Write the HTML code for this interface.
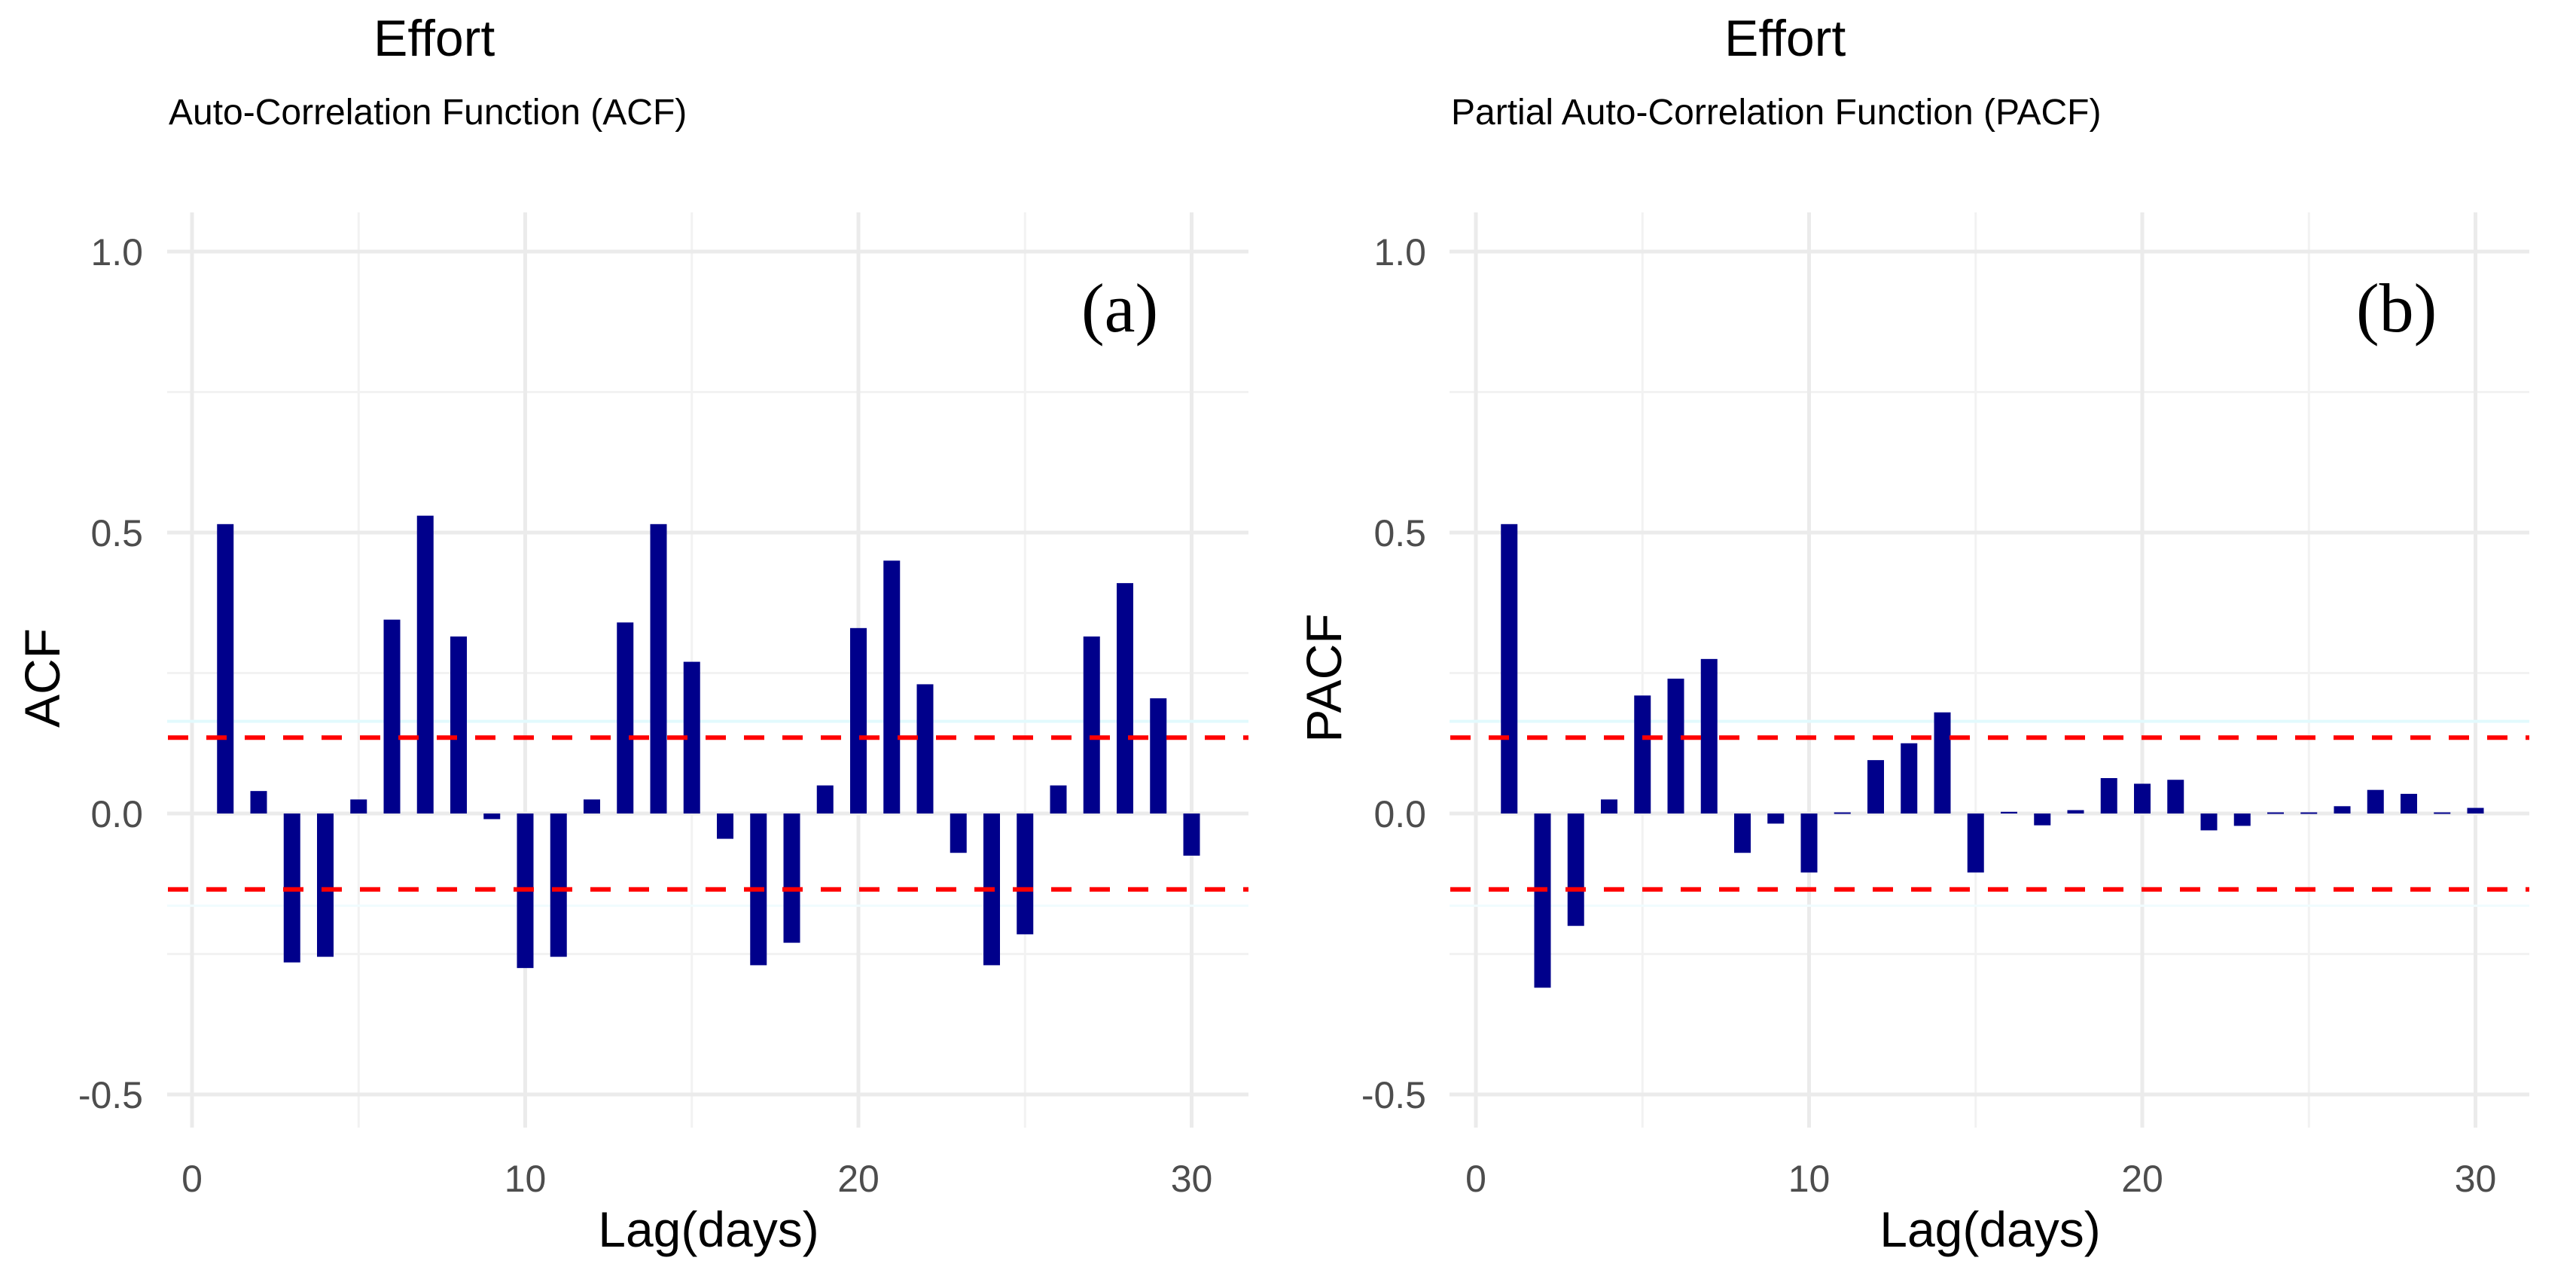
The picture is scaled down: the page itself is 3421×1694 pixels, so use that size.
<!DOCTYPE html>
<html><head><meta charset="utf-8"><style>
html,body{margin:0;padding:0;background:#fff;}
svg{display:block;font-family:"Liberation Sans",sans-serif;}
</style></head><body>
<svg id="chart" width="3421" height="1694" viewBox="0 0 3421 1694" xmlns="http://www.w3.org/2000/svg"></svg>
<script>
const lags = [1,2,3,4,5,6,7,8,9,10,11,12,13,14,15,16,17,18,19,20,21,22,23,24,25,26,27,28,29,30];
const acfValues = [0.515,0.04,-0.265,-0.255,0.025,0.345,0.53,0.315,-0.01,-0.275,-0.255,0.025,0.34,0.515,0.27,-0.045,-0.27,-0.23,0.05,0.33,0.45,0.23,-0.07,-0.27,-0.215,0.05,0.315,0.41,0.205,-0.075];
const pacfValues = [0.515,-0.31,-0.2,0.025,0.21,0.24,0.275,-0.07,-0.018,-0.105,0.002,0.095,0.125,0.18,-0.105,0.003,-0.021,0.006,0.063,0.053,0.06,-0.03,-0.022,0.002,0.002,0.013,0.042,0.035,0.002,0.01];
const confLimit = 0.135;
const cyanLimit = 0.164;
const xTicks = [0,10,20,30];
const xMinor = [5,15,25];
const yTicks = [-0.5,0,0.5,1.0];
const yTickLabels = ["-0.5","0.0","0.5","1.0"];
const yMinor = [-0.25,0.25,0.75];

const NS="http://www.w3.org/2000/svg";
const svg=document.getElementById('chart');
function mk(tag,attrs,parent){const e=document.createElementNS(NS,tag);for(const k in attrs)e.setAttribute(k,attrs[k]);(parent||svg).appendChild(e);return e;}

function panel(cfg){
  const g=mk('g',{});
  
  
  const xs=v=>cfg.x0+v*44.25;
  const ys=v=>1080-v*746;
  const L=cfg.left,R=cfg.right,T=282,B=1497;
  yMinor.forEach(v=>{const l=mk('line',{x1:L,x2:R,y1:ys(v),y2:ys(v),stroke:'#f2f2f2','stroke-width':3},g);
    
    });
  xMinor.forEach(v=>{const l=mk('line',{x1:xs(v),x2:xs(v),y1:T,y2:B,stroke:'#f2f2f2','stroke-width':3},g);
    
    });
  yTicks.forEach((v,i)=>{const l=mk('line',{x1:L,x2:R,y1:ys(v),y2:ys(v),stroke:'#ebebeb','stroke-width':5},g);
    
    
    const t=mk('text',{x:cfg.tickRight,y:ys(v)+18,'text-anchor':'end','font-size':50,fill:'#4d4d4d'},g);
    t.textContent=yTickLabels[i];
    
    });
  xTicks.forEach(v=>{const l=mk('line',{x1:xs(v),x2:xs(v),y1:T,y2:B,stroke:'#ebebeb','stroke-width':5},g);
    
    
    const t=mk('text',{x:xs(v),y:1582,'text-anchor':'middle','font-size':50,fill:'#4d4d4d'},g);
    t.textContent=String(v);
    
    });
  const c1=mk('line',{x1:L,x2:R,y1:ys(cyanLimit),y2:ys(cyanLimit),stroke:'#e2fafd','stroke-width':4},g);
  
  
  const c2=mk('line',{x1:L,x2:R,y1:ys(-cyanLimit),y2:ys(-cyanLimit),stroke:'#f0fcfe','stroke-width':3},g);
  
  
  cfg.values.forEach((v,i)=>{const x=xs(lags[i]);const y0=ys(0),y1=ys(v);
    const r=mk('rect',{x:x-11,y:Math.min(y0,y1),width:22,height:Math.max(2,Math.abs(y1-y0)),fill:'#00008b'},g);
    
    });
  [confLimit,-confLimit].forEach(v=>{const l=mk('line',{x1:L+1,x2:R,y1:ys(v),y2:ys(v),stroke:'#ff0000','stroke-width':6,'stroke-dasharray':'27 24'},g);
    
    });
  const t1=mk('text',{x:cfg.titleX,y:74,'font-size':68,fill:'#000'},g);t1.textContent='Effort';
  
  
  const t2=mk('text',{x:cfg.left+2,y:165,'font-size':48,fill:'#000'},g);t2.textContent=cfg.subtitle;
  
  
  const t3=mk('text',{x:cfg.xTitleX,y:1655,'text-anchor':'middle','font-size':66,fill:'#000'},g);t3.textContent='Lag(days)';
  
  
  const t4=mk('text',{x:0,y:0,'text-anchor':'middle','font-size':66,fill:'#000',transform:`translate(${cfg.yTitleX},900) rotate(-90)`},g);t4.textContent=cfg.yTitle;
  
  
  const t5=mk('text',{x:cfg.labelX,y:440,'font-size':92,fill:'#000','font-family':'Liberation Serif, serif'},g);t5.textContent=cfg.label;
  
  
}
panel({name:'acf-panel',x0:255,left:222,right:1658,tickRight:190,values:acfValues,titleX:496,subtitle:'Auto-Correlation Function (ACF)',xTitleX:941,yTitleX:79,yTitle:'ACF',labelX:1436,label:'(a)'});
panel({name:'pacf-panel',x0:1960,left:1925,right:3359,tickRight:1894,values:pacfValues,titleX:2290,subtitle:'Partial Auto-Correlation Function (PACF)',xTitleX:2643,yTitleX:1781,yTitle:'PACF',labelX:3129,label:'(b)'});
</script>
</body></html>
